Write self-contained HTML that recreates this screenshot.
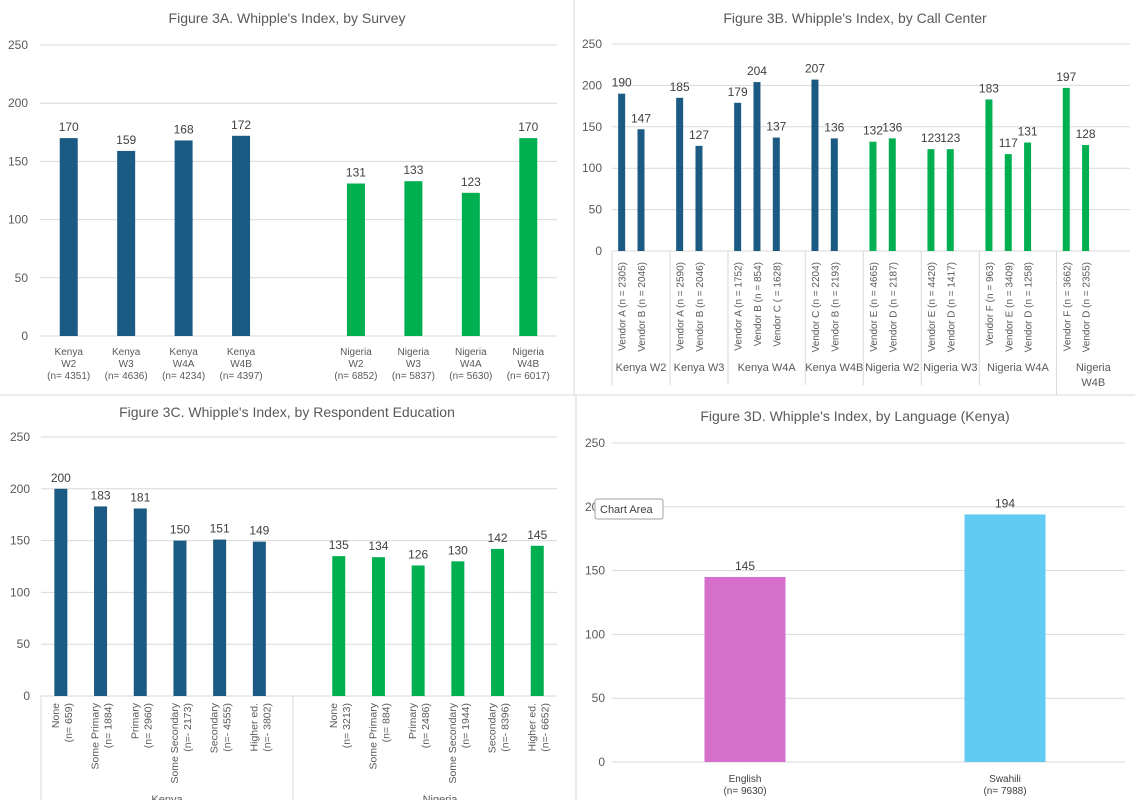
<!DOCTYPE html>
<html><head><meta charset="utf-8">
<style>
body{margin:0;background:#fff;font-family:"Liberation Sans",Arial,sans-serif;}
svg text{font-family:"Liberation Sans",Arial,sans-serif;fill:#404040;}
</style></head>
<body>
<svg id="c" width="1135" height="800" viewBox="0 0 1135 800" xmlns="http://www.w3.org/2000/svg">
<rect width="1135" height="800" fill="#fff"/>
<line x1="574" y1="0" x2="574" y2="395" stroke="#d9d9d9"/>
<line x1="0" y1="395" x2="1135" y2="395" stroke="#d9d9d9"/>
<line x1="576" y1="395" x2="576" y2="800" stroke="#d9d9d9"/>
</svg>
<script>
// ---- Panel A data ----
const aCats=["Kenya|W2|(n= 4351)","Kenya|W3|(n= 4636)","Kenya|W4A|(n= 4234)","Kenya|W4B|(n= 4397)","","Nigeria|W2|(n= 6852)","Nigeria|W3|(n= 5837)","Nigeria|W4A|(n= 5630)","Nigeria|W4B|(n= 6017)"];
const aVals=[170,159,168,172,null,131,133,123,170];
// ---- Panel B data ----
const bGroups=["Kenya W2","Kenya W3","Kenya W4A","Kenya W4B","Nigeria W2","Nigeria W3","Nigeria W4A","Nigeria|W4B"];
const bCats=[["Vendor A (n = 2305)","Vendor B (n = 2046)"],["Vendor A (n = 2590)","Vendor B (n = 2046)"],["Vendor A (n = 1752)","Vendor B (n = 854)","Vendor C ( = 1628)"],["Vendor C (n = 2204)","Vendor B (n = 2193)"],["Vendor E (n = 4665)","Vendor D (n = 2187)"],["Vendor E (n = 4420)","Vendor D (n = 1417)"],["Vendor F (n = 963)","Vendor E (n = 3409)","Vendor D (n = 1258)"],["Vendor F (n = 3662)","Vendor D (n = 2355)"]];
const bVals=[[190,147],[185,127],[179,204,137],[207,136],[132,136],[123,123],[183,117,131],[197,128]];
// ---- Panel C data ----
const cGroups=["Kenya","Nigeria"];
const cCats=["None|(n= 659)","Some Primary|(n= 1884)","Primary|(n= 2960)","Some Secondary|(n=- 2173)","Secondary|(n=- 4555)","Higher ed.|(n=- 3802)"];
const cCatsN=["None|(n= 3213)","Some Primary|(n= 884)","Primary|(n= 2486)","Some Secondary|(n= 1944)","Secondary|(n=- 8396)","Higher ed.|(n=- 6652)"];
const cKenya=[200,183,181,150,151,149];
const cNigeria=[135,134,126,130,142,145];
// ---- Panel D data ----
const dCats=["English|(n= 9630)","Swahili|(n= 7988)"];
const dVals=[145,194];
const yTicks=[0,50,100,150,200,250];

const BLUE="#1b5a82",GREEN="#00b050";
const svg=document.getElementById('c');
const NS="http://www.w3.org/2000/svg";
function mk(tag,at,txt){const e=document.createElementNS(NS,tag);for(const k in at)e.setAttribute(k,at[k]);if(txt!==undefined)e.textContent=txt;svg.appendChild(e);return e;}

function axis(p){
  const ys=v=>p.y0-(p.y0-p.y250)*v/250;
  yTicks.forEach(t=>{
    const g=mk('line',{x1:p.x0,x2:p.x1,y1:ys(t),y2:ys(t),stroke:'#d9d9d9'});
    
    
    const l=mk('text',{x:p.lx,y:ys(t)+4,'font-size':12,'text-anchor':'end',style:'fill:#595959'},t);
    
    
  });
  return ys;
}
function title(x,y,t,name){const e=mk('text',{x:x,y:y,'font-size':14,'text-anchor':'middle',style:'fill:#595959'},t);
  
  }
function bar(x,w,v,ys,col,name,fs){
  const r=mk('rect',{x:x-w/2,y:ys(v),width:w,height:ys(0)-ys(v),fill:col});
  
  
  const t=mk('text',{x:x,y:ys(v)-7,'font-size':fs||12,'text-anchor':'middle'},v);
  
  
}
function vlabel(x,y,lines,fs,name,sq){
  const t=mk('text',{transform:`translate(${x},${y}) rotate(-90)`,'font-size':fs,'text-anchor':'end',style:'fill:#595959'});
  if(sq)t.setAttribute('textLength',sq);
  
  
  lines.forEach((s,i)=>{const ts=document.createElementNS(NS,'tspan');ts.setAttribute('x',0);ts.setAttribute('dy',i==0?(lines.length==1?4:-2):13);ts.textContent=s;t.appendChild(ts);});
}

// Panel A
title(287,23,"Figure 3A. Whipple's Index, by Survey","panel-a-title");
{const p={x0:40,x1:557,y0:336,y250:45,lx:28,name:'panel-a'};const ys=axis(p);const bw=(p.x1-p.x0)/aCats.length;
aCats.forEach((c,i)=>{const cx=p.x0+(i+0.5)*bw;if(aVals[i]!=null)bar(cx,18,aVals[i],ys,i<4?BLUE:GREEN,'panel-a-bar-'+i);
  c.split('|').forEach((s,j)=>{if(!s)return;const t=mk('text',{x:cx,y:355+j*12,'font-size':10,'text-anchor':'middle',style:'fill:#595959'},s);
  
  });});}

// Panel B
title(855,23,"Figure 3B. Whipple's Index, by Call Center","panel-b-title");
{const p={x0:612,x1:1130,y0:251,y250:44,lx:602,name:'panel-b'};const ys=axis(p);const sw=19.33;let slot=0;
bGroups.forEach((g,gi)=>{const start=slot;const gx=p.x0+start*sw;
  const d=mk('line',{x1:gx,x2:gx,y1:251,y2:gi==7?395:385,stroke:'#d9d9d9'});
  
  
  bCats[gi].forEach((c,ci)=>{const cx=p.x0+(slot+0.5)*sw;bar(cx,7,bVals[gi][ci],ys,gi<4?BLUE:GREEN,'panel-b-bar',12);vlabel(cx,262,[c],10,'panel-b-vendor-label');slot++;});
  slot++;const end=gi==7?1130:p.x0+slot*sw;const mx=(gx+end)/2;
  g.split('|').forEach((s,j,a)=>{const t=mk('text',{x:mx,y:(a.length==1?371:371)+j*15,'font-size':11,'text-anchor':'middle',style:'fill:#595959'},s);
  
  });});}

// Panel C
title(287,417,"Figure 3C. Whipple's Index, by Respondent Education","panel-c-title");
{const p={x0:41,x1:557,y0:696,y250:437,lx:30,name:'panel-c'};const ys=axis(p);const sw=39.7;
const d=mk('line',{x1:293,x2:293,y1:696,y2:800,stroke:'#d9d9d9'});


const dl=mk('line',{x1:41,x2:41,y1:696,y2:800,stroke:'#d9d9d9'});


[[cKenya,cCats,0,BLUE],[cNigeria,cCatsN,7,GREEN]].forEach(([vals,cats,off,col],gi)=>{
  vals.forEach((v,i)=>{const cx=p.x0+(off+i+0.5)*sw;bar(cx,13,v,ys,col,'panel-c-bar',12);vlabel(cx,703,cats[i].split('|'),10.5,'panel-c-x-label');});
  const t=mk('text',{x:gi==0?167:440,y:803,'font-size':11,'text-anchor':'middle',style:'fill:#595959'},cGroups[gi]);
  
  });}

// Panel D
title(855,421,"Figure 3D. Whipple's Index, by Language (Kenya)","panel-d-title");
{const p={x0:612,x1:1125,y0:762,y250:443,lx:605,name:'panel-d'};const ys=axis(p);const bw=260;const cols=["#d56fcb","#62cbf3"];
dCats.forEach((c,i)=>{const cx=615+(i+0.5)*bw;bar(cx,81,dVals[i],ys,cols[i],'panel-d-bar-'+i,12);
  c.split('|').forEach((s,j)=>{const t=mk('text',{x:cx,y:782+j*12,'font-size':10,'text-anchor':'middle',style:'fill:#404040'},s);
  
  });});}
const tip=mk('rect',{x:595,y:499,width:68,height:20,rx:2,fill:'#fff',stroke:'#a0a0a0'});


const tt=mk('text',{x:600,y:513,'font-size':11,style:'fill:#404040'},'Chart Area');


</script>
</body></html>
